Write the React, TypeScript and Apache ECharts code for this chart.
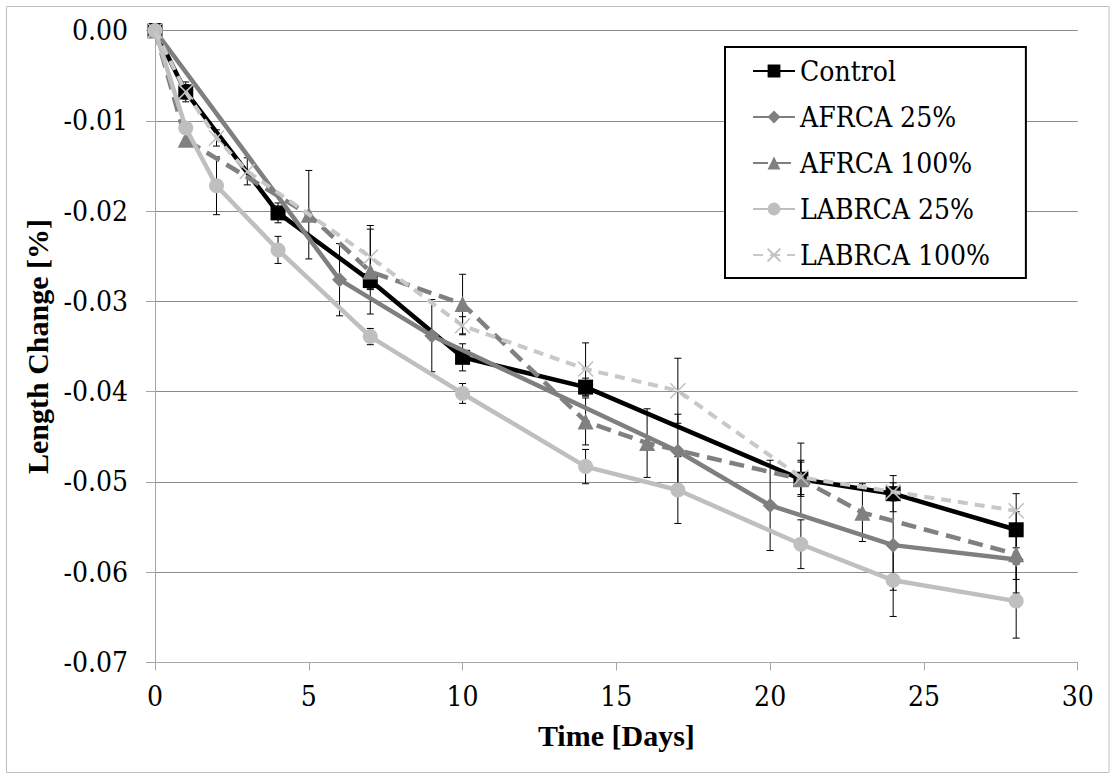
import React, { useEffect, useRef } from "react";
import * as echarts from "echarts";

const seriesNames = ["Control", "AFRCA 25%", "AFRCA 100%", "LABRCA 25%", "LABRCA 100%"];

const controlDays = [0, 1, 4, 7, 10, 14, 21, 24, 28];
const controlVals = [0, -0.0068, -0.0202, -0.0277, -0.0362, -0.0395, -0.0497, -0.0513, -0.0553];
const controlErr = [0, 0.0011, 0.0011, 0.001, 0.0015, 0.001, 0.0019, 0.002, 0.002];

const afrca25Days = [0, 6, 9, 17, 20, 24, 28];
const afrca25Vals = [0, -0.0276, -0.0338, -0.0466, -0.0526, -0.057, -0.0586];
const afrca25Err = [0, 0.004, 0.004, 0.0041, 0.005, 0.005, 0.0037];

const afrca100Days = [0, 1, 5, 7, 10, 14, 16, 21, 23, 28];
const afrca100Vals = [0, -0.0121, -0.0204, -0.0267, -0.0303, -0.0433, -0.0457, -0.0497, -0.0534, -0.058];
const afrca100Err = [0, 0.0007, 0.0049, 0.0047, 0.0033, 0.0026, 0.0038, 0.004, 0.0032, 0.0028];

const labrca25Days = [0, 1, 2, 4, 7, 10, 14, 17, 21, 24, 28];
const labrca25Vals = [0, -0.0108, -0.0172, -0.0243, -0.0339, -0.0402, -0.0483, -0.0509, -0.0569, -0.0609, -0.0632];
const labrca25Err = [0, 0.0005, 0.0032, 0.0015, 0.0009, 0.0011, 0.0019, 0.0037, 0.0027, 0.004, 0.0041];

const labrca100Days = [0, 1, 2, 3, 7, 10, 14, 17, 21, 24, 28];
const labrca100Vals = [0, -0.0068, -0.0119, -0.0156, -0.0251, -0.0327, -0.0375, -0.0399, -0.0495, -0.0511, -0.0532];
const labrca100Err = [0, 0.0008, 0.0009, 0.0015, 0.0035, 0.001, 0.0029, 0.0036, 0.0019, 0.001, 0.0019];

const FONT_BOLD = "Liberation Serif";
const FONT_REG = "DejaVu Serif Condensed";

function pts(days: number[], vals: number[]) {
  return days.map((d, i) => [d, vals[i]]);
}
function errPts(days: number[], vals: number[], errs: number[]) {
  return days
    .map((d, i) => [d, vals[i] - errs[i], vals[i] + errs[i]])
    .filter((p, i) => errs[i] > 0);
}

function errorSeries(name: string, data: number[][]) {
  return {
    type: "custom",
    name: name + " err",
    z: 1,
    encode: { x: 0, y: [1, 2] },
    data,
    renderItem: (params: any, api: any) => {
      const x = api.value(0);
      const lo = api.coord([x, api.value(1)]);
      const hi = api.coord([x, api.value(2)]);
      const w = 3.5;
      const st = { stroke: "#000", lineWidth: 1 };
      return {
        type: "group",
        children: [
          { type: "line", shape: { x1: lo[0], y1: lo[1], x2: hi[0], y2: hi[1] }, style: st },
          { type: "line", shape: { x1: lo[0] - w, y1: lo[1], x2: lo[0] + w, y2: lo[1] }, style: st },
          { type: "line", shape: { x1: hi[0] - w, y1: hi[1], x2: hi[0] + w, y2: hi[1] }, style: st },
        ],
      };
    },
  };
}

export default function App() {
  const ref = useRef<HTMLDivElement>(null);
  useEffect(() => {
    if (!ref.current) return;
    const chart = echarts.init(ref.current, undefined, { renderer: "svg" });
    const option: any = {
      animation: false,
      backgroundColor: "#fff",
      textStyle: { fontFamily: FONT_REG },
      graphic: [
        {
          type: "rect",
          shape: { x: 6.5, y: 6.5, width: 1102.5, height: 766 },
          style: { fill: "none", stroke: "#bfbfbf", lineWidth: 1 },
          silent: true,
        },
      ],
      grid: { left: 155, top: 30.5, width: 922.7, height: 632, containLabel: false },
      xAxis: {
        type: "value",
        min: 0,
        max: 30,
        interval: 5,
        name: "Time [Days]",
        nameLocation: "middle",
        nameGap: 58,
        nameTextStyle: { fontFamily: FONT_BOLD, fontSize: 30, fontWeight: "bold", color: "#000" },
        axisLine: { onZero: false, lineStyle: { color: "#a6a6a6", width: 1 } },
        axisTick: { show: true, inside: false, length: 8, lineStyle: { color: "#a6a6a6" } },
        axisLabel: { fontFamily: FONT_REG, fontSize: 28, color: "#000", margin: 20 },
        splitLine: { show: false },
      },
      yAxis: {
        type: "value",
        min: -0.07,
        max: 0,
        interval: 0.01,
        name: "Length Change [%]",
        nameLocation: "middle",
        nameGap: 88,
        nameRotate: 90,
        nameTextStyle: { fontFamily: FONT_BOLD, fontSize: 30, fontWeight: "bold", color: "#000" },
        axisLine: { show: true, lineStyle: { color: "#a6a6a6", width: 1 } },
        axisTick: { show: true, inside: false, length: 9, lineStyle: { color: "#a6a6a6" } },
        axisLabel: {
          fontFamily: FONT_REG,
          fontSize: 28,
          color: "#000",
          margin: 27,
          formatter: (v: number) => (Math.abs(v) < 1e-9 ? "0.00" : v.toFixed(2)),
        },
        splitLine: { show: true, lineStyle: { color: "#8c8c8c", width: 1 } },
      },
      legend: {
        data: seriesNames,
        orient: "vertical",
        left: 725,
        top: 47,
        padding: [9, 36, 8, 27],
        itemWidth: 42,
        itemHeight: 16,
        itemGap: 16,
        borderColor: "#000",
        borderWidth: 2,
        backgroundColor: "#fff",
        textStyle: { fontFamily: FONT_REG, fontSize: 28, color: "#000", lineHeight: 30 },
      },
      series: [
        errorSeries("Control", errPts(controlDays, controlVals, controlErr)),
        errorSeries("AFRCA 25%", errPts(afrca25Days, afrca25Vals, afrca25Err)),
        errorSeries("AFRCA 100%", errPts(afrca100Days, afrca100Vals, afrca100Err)),
        errorSeries("LABRCA 25%", errPts(labrca25Days, labrca25Vals, labrca25Err)),
        errorSeries("LABRCA 100%", errPts(labrca100Days, labrca100Vals, labrca100Err)),
        {
          type: "line",
          name: "Control",
          z: 3,
          data: pts(controlDays, controlVals),
          symbol: "rect",
          symbolSize: 15,
          lineStyle: { color: "#000", width: 4.5 },
          itemStyle: { color: "#000" },
        },
        {
          type: "line",
          name: "AFRCA 25%",
          z: 4,
          data: pts(afrca25Days, afrca25Vals),
          symbol: "diamond",
          symbolSize: 15,
          lineStyle: { color: "#7f7f7f", width: 4.5 },
          itemStyle: { color: "#7f7f7f" },
        },
        {
          type: "line",
          name: "AFRCA 100%",
          z: 5,
          data: pts(afrca100Days, afrca100Vals),
          symbol: "triangle",
          symbolSize: 16,
          lineStyle: { color: "#808080", width: 4.5, type: [15, 8] },
          itemStyle: { color: "#808080" },
        },
        {
          type: "line",
          name: "LABRCA 25%",
          z: 6,
          data: pts(labrca25Days, labrca25Vals),
          symbol: "circle",
          symbolSize: 15,
          lineStyle: { color: "#bfbfbf", width: 4.5 },
          itemStyle: { color: "#bfbfbf" },
        },
        {
          type: "line",
          name: "LABRCA 100%",
          z: 7,
          data: pts(labrca100Days, labrca100Vals),
          symbol: "path://M0,0L10,10M10,0L0,10",
          symbolSize: 15,
          lineStyle: { color: "#c8c8c8", width: 4, type: [10, 7] },
          itemStyle: { color: "#c0c0c0", borderColor: "#c0c0c0", borderWidth: 1.5 },
        },
      ],
    };
    chart.setOption(option);
    return () => chart.dispose();
  }, []);
  return (
    <div
      ref={ref}
      style={{ position: "absolute", left: 0, top: 0, width: 1112, height: 774 }}
    />
  );
}
